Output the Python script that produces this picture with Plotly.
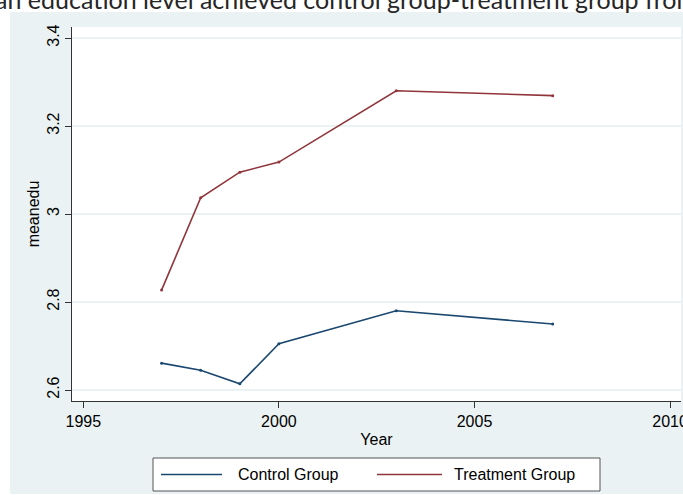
import plotly.graph_objects as go

# Mean education by survey year
years = [1997, 1998, 1999, 2000, 2003, 2007]
control = [2.661, 2.645, 2.614, 2.705, 2.780, 2.750]
treatment = [2.827, 3.037, 3.095, 3.118, 3.280, 3.269]

x_ticks = [1995, 2000, 2005, 2010]
y_ticks = [2.6, 2.8, 3.0, 3.2, 3.4]
y_tick_text = ["2.6", "2.8", "3", "3.2", "3.4"]

NAVY = "#1A476F"
MAROON = "#90353B"
BG = "#EAF2F3"
FONT = "Liberation Sans"

W, H = 683, 495
ML, MR, MT, MB = 72, 2, 27, 94
PW, PH = W - ML - MR, H - MT - MB


def px(x):
    return (x - ML) / PW


def py(y):
    return (H - MB - y) / PH


fig = go.Figure()
fig.add_trace(go.Scatter(x=years, y=control, mode="lines+markers", name="Control Group",
                         line=dict(color=NAVY, width=1.6), marker=dict(size=3, color=NAVY),
                         showlegend=False))
fig.add_trace(go.Scatter(x=years, y=treatment, mode="lines+markers", name="Treatment Group",
                         line=dict(color=MAROON, width=1.6), marker=dict(size=3, color=MAROON),
                         showlegend=False))

shapes = [
    # white strips around the graph region
    dict(type="rect", xref="paper", yref="paper", x0=px(-5), x1=px(W + 5), y0=py(12), y1=py(-5),
         fillcolor="white", line=dict(width=0), layer="above"),
    dict(type="rect", xref="paper", yref="paper", x0=px(-5), x1=px(10), y0=py(H + 5), y1=py(-5),
         fillcolor="white", line=dict(width=0), layer="above"),
    dict(type="rect", xref="paper", yref="paper", x0=px(-5), x1=px(W + 5), y0=py(H + 5), y1=py(494),
         fillcolor="white", line=dict(width=0), layer="above"),
    # legend box
    dict(type="rect", xref="paper", yref="paper", x0=px(153), x1=px(600), y0=py(491), y1=py(458),
         fillcolor="white", line=dict(color="#555555", width=1), layer="above"),
    dict(type="line", xref="paper", yref="paper", x0=px(161), x1=px(222), y0=py(474.5), y1=py(474.5),
         line=dict(color=NAVY, width=1.6), layer="above"),
    dict(type="line", xref="paper", yref="paper", x0=px(377), x1=px(442), y0=py(474.5), y1=py(474.5),
         line=dict(color=MAROON, width=1.6), layer="above"),
]

annotations = [
    dict(text="Control Group", xref="paper", yref="paper", x=px(236), y=py(474.5),
         xanchor="left", yanchor="middle", showarrow=False, font=dict(family=FONT, size=16, color="black")),
    dict(text="Treatment Group", xref="paper", yref="paper", x=px(452), y=py(474.5),
         xanchor="left", yanchor="middle", showarrow=False, font=dict(family=FONT, size=16, color="black")),
    dict(text="Mean education level achieved control group-treatment group from",
         xref="paper", yref="paper", x=px(699), y=py(-1), xanchor="right", yanchor="middle",
         showarrow=False, font=dict(family="Lato", size=25, color="#262626")),
]

fig.update_layout(
    width=W, height=H,
    margin=dict(l=ML, r=MR, t=MT, b=MB, pad=0, autoexpand=False),
    paper_bgcolor=BG, plot_bgcolor="white",
    font=dict(family=FONT, size=16, color="black"),
    shapes=shapes, annotations=annotations,
    showlegend=False,
    xaxis=dict(range=[1994.71, 2010.28], tickvals=x_ticks, ticks="outside", ticklen=6,
               tickcolor="#333333", showgrid=False, zeroline=False, showline=True,
               linecolor="#333333", linewidth=1.2, ticklabeloverflow="allow", automargin=False,
               title=dict(text="Year", standoff=4, font=dict(size=16))),
    yaxis=dict(range=[2.575, 3.425], tickvals=y_ticks, ticktext=y_tick_text, tickangle=-90,
               ticks="outside", ticklen=6, tickcolor="#333333", automargin=False,
               showgrid=True, gridcolor=BG, gridwidth=1.5, zeroline=False, showline=True,
               linecolor="#333333", linewidth=1.2,
               title=dict(text="meanedu", standoff=0, font=dict(size=16))),
)

fig.write_html("out.html")
